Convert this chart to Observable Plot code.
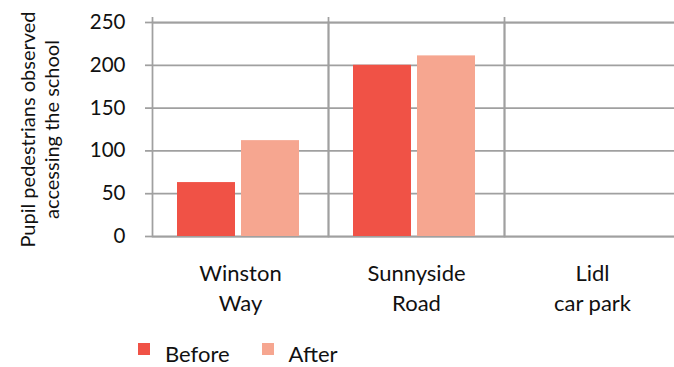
<!DOCTYPE html>
<html>
<head>
<meta charset="utf-8">
<script src="https://cdn.jsdelivr.net/npm/d3@7"></script>
<script src="https://cdn.jsdelivr.net/npm/@observablehq/plot@0.6"></script>
<style>
  body { margin: 0; background: #fff; font-family: Lato, "Open Sans", sans-serif; color: #111; }
  #chart svg { display: block; }
  .legend { display: flex; align-items: flex-start; padding-top: 10px; margin-left: 138px; font-size: 22px; line-height: normal; }
  .legend .item { display: flex; align-items: flex-start; margin-right: 32px; }
  .legend .swatch { width: 12px; height: 12px; margin-top: 3px; margin-right: 15px; }
</style>
</head>
<body>
<div id="chart"></div>
<script>
// Pupil pedestrians counted at each school entrance, before and after
const categories = ["Winston\nWay", "Sunnyside\nRoad", "Lidl\ncar park"];
const series = ["Before", "After"];
const before = [63, 200, null];
const after = [112, 211, null];
const yTicks = [0, 50, 100, 150, 200, 250];
const colors = ["#f05246", "#f6a690"];
const yTitle = "Pupil pedestrians observed\naccessing the school";

const data = categories.flatMap((category, i) => [
  {category, series: series[0], value: before[i]},
  {category, series: series[1], value: after[i]}
]);

const gridColor = "#a0a0a0";

const chart = Plot.plot({
  width: 674,
  height: 330,
  marginLeft: 151,
  marginRight: -6,
  marginTop: 22,
  marginBottom: 94,
  style: {fontFamily: "Lato, 'Open Sans', sans-serif", color: "#111", background: "#fff"},
  fx: {domain: categories, padding: 0, axis: null},
  x: {domain: series, paddingInner: 0.09, paddingOuter: 0.42, align: 0.46, axis: null},
  y: {domain: [0, 250], axis: null},
  color: {domain: series, range: colors},
  marks: [
    Plot.gridY(yTicks, {stroke: gridColor, strokeOpacity: 1, strokeWidth: 1.75}),
    Plot.frame({stroke: gridColor, strokeWidth: 1.75}),
    Plot.barY(data.filter(d => d.value != null), {fx: "category", x: "series", y: "value", fill: "series"}),
    Plot.axisY(yTicks, {tickSize: 7, tickPadding: 20, stroke: gridColor, strokeWidth: 1.75, fill: "#111", fontSize: 20.5, label: null}),
    // small tick marking the left end of the category axis
    Plot.axisFx([categories[0]], {tickSize: 6, stroke: gridColor, strokeWidth: 1.75, dx: -88, text: null, label: null}),
    Plot.text(categories, {fx: d => d, text: d => d, frameAnchor: "bottom", lineAnchor: "top", dy: 23, fontSize: 22, lineHeight: 1.36, fill: "#111"}),
    Plot.text([yTitle], {facet: "super", frameAnchor: "left", textAnchor: "middle", dx: -113, rotate: -90, fontSize: 20, lineHeight: 1.2, fill: "#111"})
  ]
});

document.getElementById("chart").appendChild(chart);

// Legend row below the chart
const legend = document.createElement("div");
legend.className = "legend";
series.forEach((name, i) => {
  const item = document.createElement("div");
  item.className = "item";
  const sw = document.createElement("span");
  sw.className = "swatch";
  sw.style.background = colors[i];
  const label = document.createElement("span");
  label.textContent = name;
  item.append(sw, label);
  legend.appendChild(item);
});
document.body.appendChild(legend);
</script>
</body>
</html>
